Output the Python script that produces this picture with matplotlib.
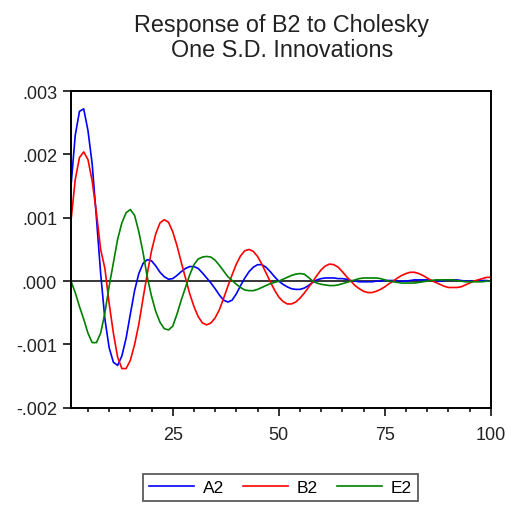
import matplotlib
matplotlib.use("Agg")
import matplotlib.pyplot as plt
from matplotlib.ticker import FuncFormatter, MultipleLocator

plt.rcParams["font.family"] = ["Liberation Sans", "DejaVu Sans"]

periods = list(range(1, 101))

# impulse responses of B2
a2 = [0.0015, 0.0023, 0.00268, 0.00272, 0.00238, 0.00185, 0.00100, 0.00012, -0.00060, -0.00105,
      -0.00128, -0.00133, -0.00118, -0.00090, -0.00052, -0.00015, 0.00012, 0.00028, 0.00034, 0.00032,
      0.00024, 0.00014, 0.00007, 0.00003, 0.00004, 0.00009, 0.00015, 0.00020, 0.00023, 0.00023,
      0.00020, 0.00013, 0.00005, -0.00003, -0.00012, -0.00022, -0.00030, -0.00033, -0.00030, -0.00020,
      -0.00007, 0.00005, 0.00015, 0.00022, 0.00026, 0.00026, 0.00022, 0.00015, 0.00007, 0.00000,
      -0.00005, -0.00009, -0.00012, -0.00013, -0.00013, -0.00011, -0.00007, -0.00002, 0.00002, 0.00004,
      0.00005, 0.00005, 0.00005, 0.00004, 0.00004, 0.00003, 0.00001, 0.00000, -0.00001, -0.00001,
      -0.00001, -0.00001, 0.00000, 0.00000, 0.00001, 0.00001, 0.00001, 0.00000, 0.00000, 0.00000,
      0.00001, 0.00002, 0.00002, 0.00002, 0.00002, 0.00001, 0.00000, 0.00000, 0.00001, 0.00002,
      0.00002, 0.00002, 0.00001, 0.00000, 0.00000, 0.00000, 0.00001, 0.00001, 0.00001, 0.00000]

b2 = [0.00095, 0.00160, 0.00195, 0.00204, 0.00192, 0.00158, 0.00108, 0.00050, 0.00020, -0.00035,
      -0.00082, -0.00120, -0.00138, -0.00138, -0.00125, -0.00100, -0.00068, -0.00027, 0.00012, 0.00048,
      0.00075, 0.00092, 0.00097, 0.00093, 0.00078, 0.00056, 0.00030, 0.00005, -0.00020, -0.00040,
      -0.00056, -0.00066, -0.00069, -0.00066, -0.00058, -0.00045, -0.00027, -0.00008, 0.00010, 0.00027,
      0.00040, 0.00048, 0.00050, 0.00047, 0.00039, 0.00027, 0.00013, -0.00001, -0.00014, -0.00025,
      -0.00032, -0.00036, -0.00036, -0.00033, -0.00027, -0.00019, -0.00010, -0.00001, 0.00009, 0.00018,
      0.00024, 0.00027, 0.00026, 0.00022, 0.00015, 0.00007, 0.00000, -0.00007, -0.00012, -0.00016,
      -0.00018, -0.00018, -0.00016, -0.00013, -0.00009, -0.00004, 0.00000, 0.00005, 0.00009, 0.00012,
      0.00014, 0.00014, 0.00012, 0.00009, 0.00005, 0.00001, -0.00002, -0.00005, -0.00008, -0.00010,
      -0.00010, -0.00010, -0.00009, -0.00006, -0.00003, 0.00000, 0.00002, 0.00004, 0.00006, 0.00006]

e2 = [0.00000, -0.00018, -0.00040, -0.00060, -0.00082, -0.00097, -0.00097, -0.00082, -0.00050, -0.00008,
      0.00029, 0.00066, 0.00092, 0.00108, 0.00113, 0.00104, 0.00078, 0.00045, 0.00006, -0.00024,
      -0.00048, -0.00065, -0.00075, -0.00077, -0.00071, -0.00052, -0.00030, -0.00010, 0.00010, 0.00026,
      0.00035, 0.00038, 0.00039, 0.00038, 0.00033, 0.00025, 0.00016, 0.00007, 0.00001, -0.00005,
      -0.00010, -0.00014, -0.00015, -0.00015, -0.00013, -0.00010, -0.00007, -0.00004, -0.00002, 0.00000,
      0.00003, 0.00006, 0.00009, 0.00011, 0.00012, 0.00011, 0.00006, 0.00000, -0.00003, -0.00005,
      -0.00006, -0.00007, -0.00007, -0.00006, -0.00004, -0.00002, 0.00000, 0.00002, 0.00004, 0.00005,
      0.00005, 0.00005, 0.00005, 0.00004, 0.00002, 0.00000, -0.00001, -0.00002, -0.00003, -0.00003,
      -0.00003, -0.00003, -0.00002, -0.00001, 0.00000, 0.00001, 0.00002, 0.00002, 0.00002, 0.00002,
      0.00002, 0.00001, 0.00000, -0.00001, -0.00001, -0.00001, -0.00001, -0.00001, 0.00000, 0.00000]

series_names = ["A2", "B2", "E2"]
series_colors = ["#0000ff", "#ff0000", "#008000"]
title_text = "Response of B2 to Cholesky\nOne S.D. Innovations"


def eviews_fmt(v, pos):
    s = f"{v:.3f}"
    return s.replace("0.", ".", 1)


fig = plt.figure(figsize=(5.07, 5.06), dpi=100)
ax = fig.add_axes([0.140, 0.192, 0.828, 0.626])

ax.axhline(0, color="black", lw=1.1, zorder=1)
lines = []
for vals, name, col in zip([a2, b2, e2], series_names, series_colors):
    ln, = ax.plot(periods, vals, color=col, lw=1.2, label=name, zorder=2)
    lines.append(ln)

ax.set_xlim(1, 100)
ax.set_ylim(-0.002, 0.003)
ax.xaxis.set_major_locator(MultipleLocator(25))
ax.xaxis.set_minor_locator(MultipleLocator(5))
ax.yaxis.set_major_locator(MultipleLocator(0.001))
ax.yaxis.set_major_formatter(FuncFormatter(eviews_fmt))
ax.tick_params(axis="both", which="major", direction="out", length=6, width=1.3,
               labelsize=13, colors="#222222", pad=4)
ax.tick_params(axis="x", which="major", pad=7)
ax.tick_params(axis="x", which="minor", direction="out", length=3, width=1.1)
for sp in ax.spines.values():
    sp.set_linewidth(1.4)
    sp.set_color("black")

fig.text(0.556, 0.972, title_text, ha="center", va="top", fontsize=16.8,
         linespacing=1.12, color="#222222")

leg = fig.legend(handles=lines, labels=series_names, loc="center",
                 bbox_to_anchor=(0.553, 0.035), ncol=3, fontsize=12.5,
                 frameon=True, fancybox=False, handlelength=2.6, columnspacing=1.1,
                 handletextpad=0.5, borderpad=0.35, borderaxespad=0)
leg.get_frame().set_edgecolor("#333333")
leg.get_frame().set_linewidth(1.3)

fig.savefig("out.png", dpi=100)
plt.close(fig)
